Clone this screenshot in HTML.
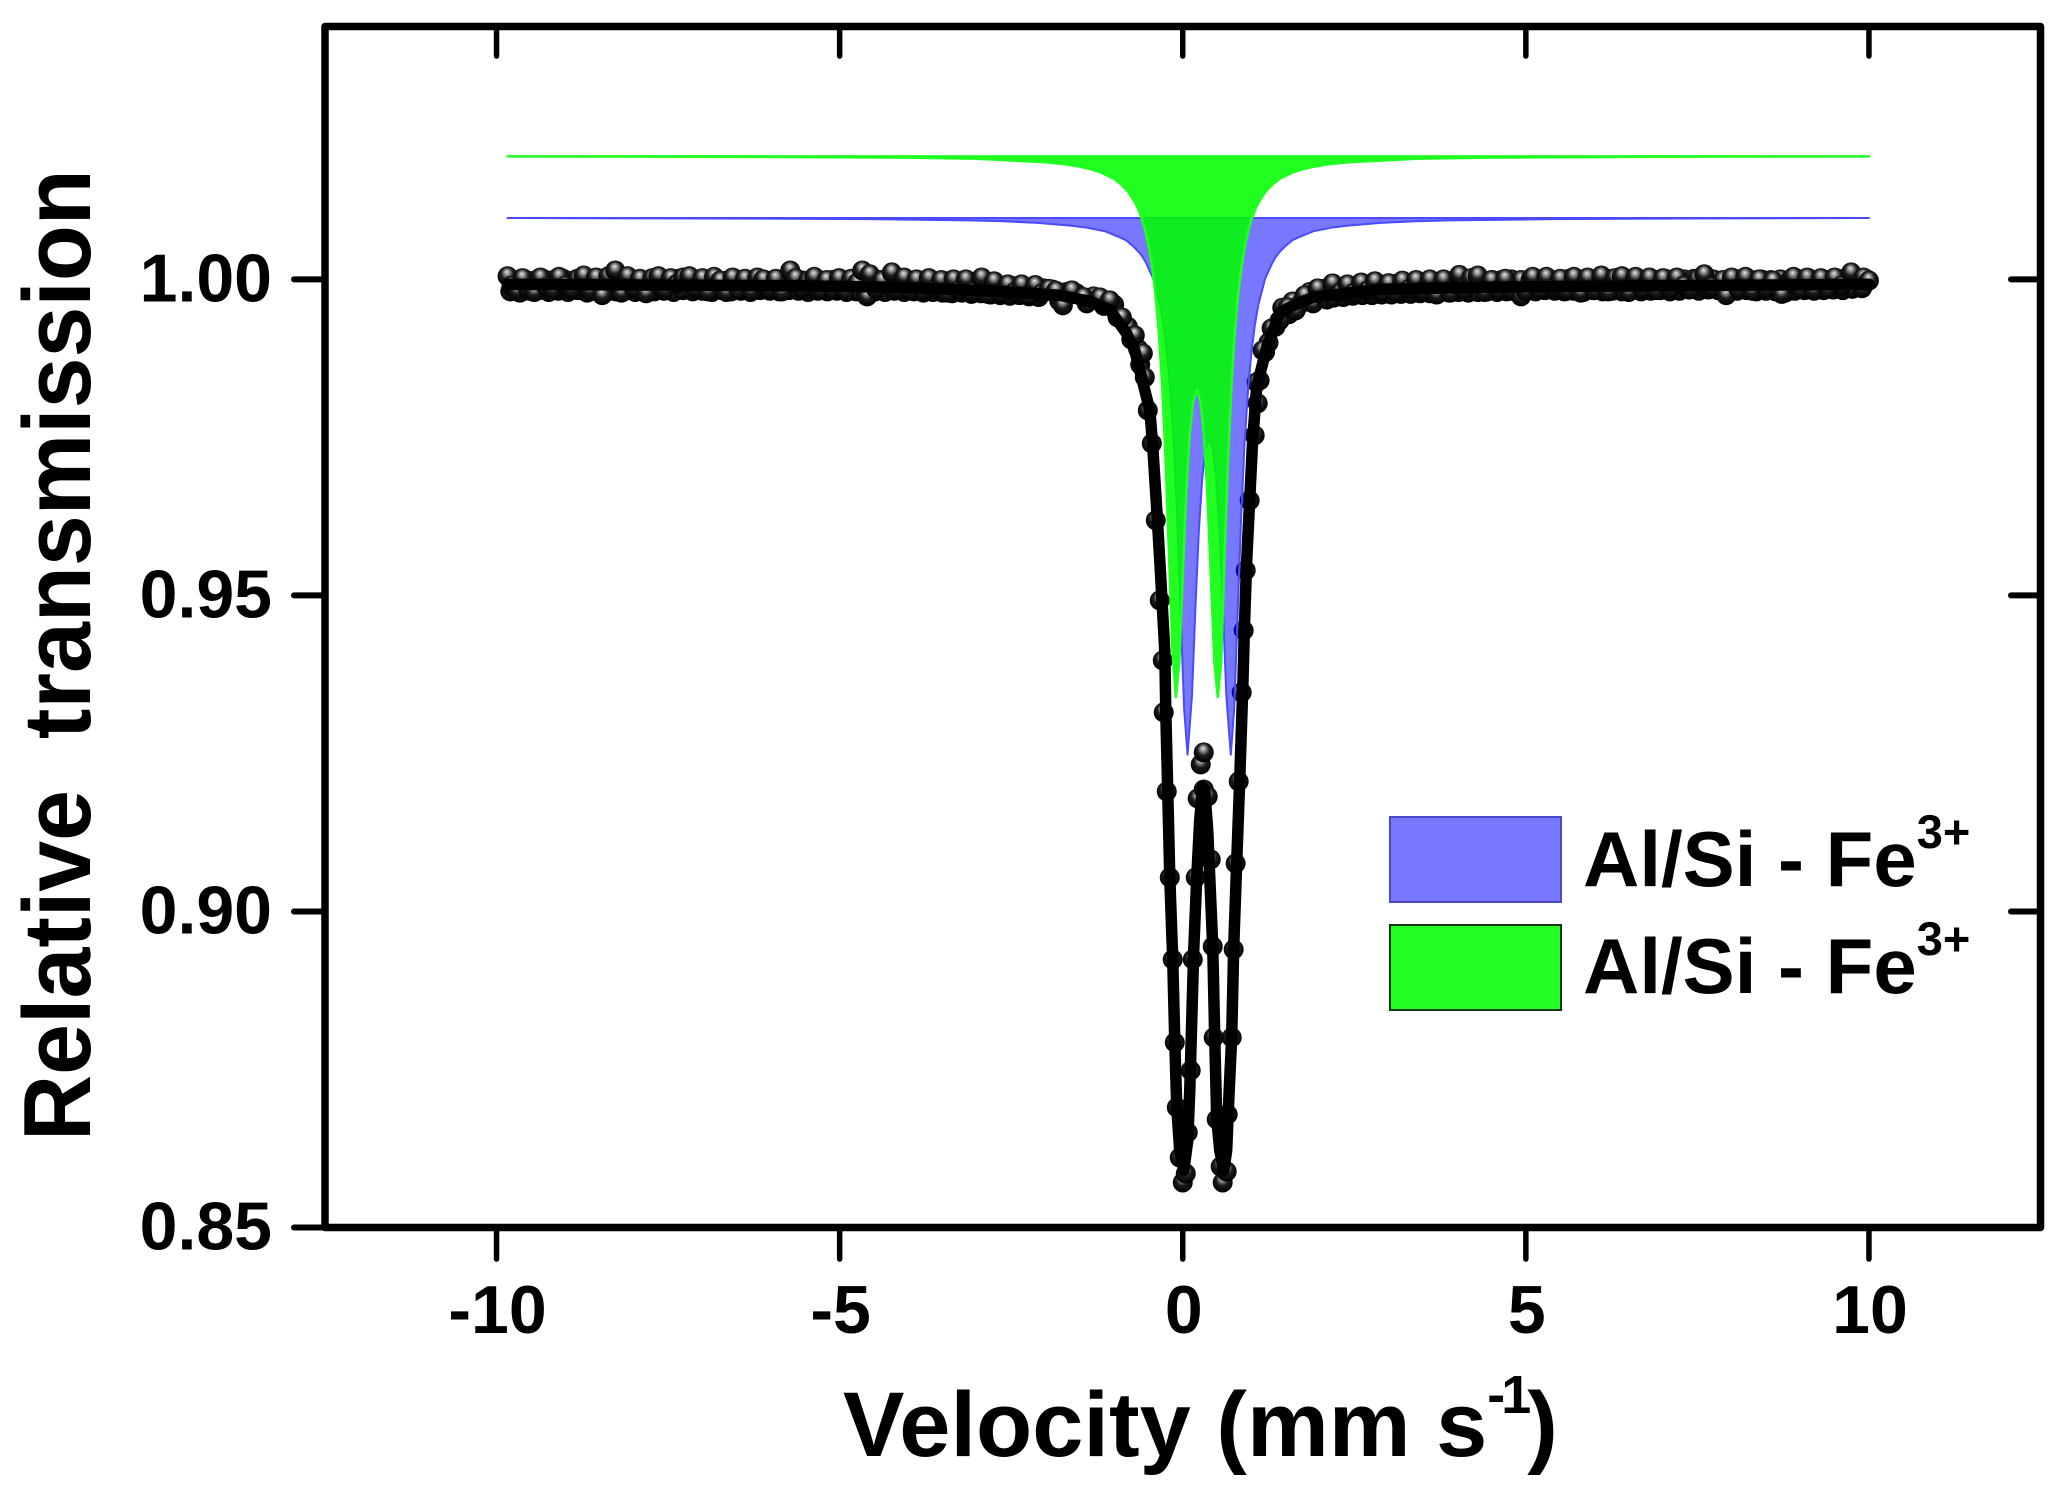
<!DOCTYPE html>
<html lang="en">
<head>
<meta charset="utf-8">
<title>Mössbauer spectrum</title>
<style>
html,body{margin:0;padding:0;background:#fff;}
svg{display:block;}
text{font-family:"Liberation Sans",Arial,sans-serif;font-weight:bold;fill:#000;white-space:pre;}
</style>
</head>
<body>
<svg id="chart" xmlns="http://www.w3.org/2000/svg" width="2068" height="1499" viewBox="0 0 2068 1499">
  <defs>
    <radialGradient id="ball" cx="0.5" cy="0.42" r="0.55" fx="0.46" fy="0.28">
      <stop offset="0" stop-color="#e6e6e6"/>
      <stop offset="0.22" stop-color="#9a9a9a"/>
      <stop offset="0.55" stop-color="#1c1c1c"/>
      <stop offset="1" stop-color="#000"/>
    </radialGradient>
  </defs>
  <rect width="2068" height="1499" fill="#fff"/>
  <g id="dense-layer"></g>
  <g id="scatter-layer"></g>
  <g id="fit-layer"></g>
  <g id="blue-layer"></g>
  <g id="green-layer"></g>
  <g id="axes-layer"></g>
  <text transform="translate(90,1141) rotate(-90) scale(0.995,1.04)" font-size="92">Relative  transmission</text>
  <text x="843" y="1456" font-size="92">Velocity (mm s<tspan dy="-43" font-size="54" letter-spacing="-4">-1</tspan><tspan dy="43">)</tspan></text>
  <g>
    <rect x="1390" y="817" width="171" height="85" fill="#7878ff" stroke="#4a4ac8" stroke-width="2"/>
    <text x="1583" y="886" font-size="78">Al/Si - Fe<tspan dy="-38" font-size="47">3+</tspan></text>
    <rect x="1390" y="925" width="171" height="85" fill="#22ff22" stroke="#0c3a0c" stroke-width="2"/>
    <text x="1583" y="993" font-size="78">Al/Si - Fe<tspan dy="-38" font-size="47">3+</tspan></text>
  </g>
</svg>
<script>
var xTickValues = [-10, -5, 0, 5, 10];
var xTickLabels = ["-10", "-5", "0", "5", "10"];
var yTickValues = [1.00, 0.95, 0.90, 0.85];
var yTickLabels = ["1.00", "0.95", "0.90", "0.85"];

var denseVelocity = [
-9.80,-9.73,-9.66,-9.59,-9.52,-9.45,-9.38,-9.31,-9.24,-9.17,-9.10,-9.03,-8.96,-8.89,-8.82,-8.75,-8.68,-8.61,-8.54,-8.47,
-8.40,-8.33,-8.26,-8.19,-8.12,-8.05,-7.98,-7.91,-7.84,-7.77,-7.70,-7.63,-7.56,-7.49,-7.42,-7.35,-7.28,-7.21,-7.14,-7.07,
-7.00,-6.93,-6.86,-6.79,-6.72,-6.65,-6.58,-6.51,-6.44,-6.37,-6.30,-6.23,-6.16,-6.09,-6.02,-5.95,-5.88,-5.81,-5.74,-5.67,
-5.60,-5.53,-5.46,-5.39,-5.32,-5.25,-5.18,-5.11,-5.04,-4.97,-4.90,-4.83,-4.76,-4.69,-4.62,-4.55,-4.48,-4.41,-4.34,-4.27,
-4.20,-4.13,-4.06,-3.99,-3.92,-3.85,-3.78,-3.71,-3.64,-3.57,-3.50,-3.43,-3.36,-3.29,-3.22,-3.15,-3.08,-3.01,-2.94,-2.87,
-2.80,-2.73,-2.66,-2.59,-2.52,-2.45,-2.38,-2.31,-2.24,-2.17,-2.10,-2.03,
-1.90,-1.80,-1.70,-1.55,-1.40,-1.30,-1.15,-1.00,-0.95,-0.80,-0.75,-0.65,-0.62,
1.12,1.20,1.25,1.35,1.45,1.55,1.60,1.70,1.85,1.90,2.05,2.10,
2.20,2.27,2.34,2.41,2.48,2.55,2.62,2.69,2.76,2.83,2.90,2.97,3.04,3.11,3.18,3.25,3.32,3.39,3.46,3.53,
3.60,3.67,3.74,3.81,3.88,3.95,4.02,4.09,4.16,4.23,4.30,4.37,4.44,4.51,4.58,4.65,4.72,4.79,4.86,4.93,
5.00,5.07,5.14,5.21,5.28,5.35,5.42,5.49,5.56,5.63,5.70,5.77,5.84,5.91,5.98,6.05,6.12,6.19,6.26,6.33,
6.40,6.47,6.54,6.61,6.68,6.75,6.82,6.89,6.96,7.03,7.10,7.17,7.24,7.31,7.38,7.45,7.52,7.59,7.66,7.73,
7.80,7.87,7.94,8.01,8.08,8.15,8.22,8.29,8.36,8.43,8.50,8.57,8.64,8.71,8.78,8.85,8.92,8.99,9.06,9.13,
9.20,9.27,9.34,9.41,9.48,9.55,9.62,9.69,9.76,9.83,9.90,9.97
];
var denseTransmission = [
0.9981,0.9999,0.9979,1.0000,0.9982,0.9998,0.9983,1.0000,0.9980,0.9999,0.9982,1.0001,0.9980,0.9998,0.9983,0.9999,0.9979,1.0000,0.9981,1.0001,
0.9980,0.9999,0.9981,1.0002,0.9982,0.9999,0.9980,1.0000,0.9983,0.9998,0.9981,1.0000,0.9982,0.9999,0.9980,1.0001,0.9983,0.9999,0.9981,0.9998,
0.9982,1.0000,0.9980,0.9999,0.9983,0.9998,0.9981,1.0000,0.9982,0.9999,0.9980,1.0000,0.9983,0.9998,0.9982,0.9999,0.9981,1.0000,0.9983,0.9999,
0.9982,0.9998,0.9980,1.0000,0.9982,0.9998,0.9981,0.9999,0.9982,0.9998,0.9980,0.9999,0.9981,1.0000,0.9979,1.0000,0.9981,0.9999,0.9980,1.0000,
0.9982,0.9998,0.9980,0.9997,0.9981,0.9998,0.9979,0.9997,0.9980,0.9996,0.9979,0.9997,0.9978,0.9996,0.9979,0.9995,0.9977,0.9996,0.9978,0.9994,
0.9976,0.9992,0.9975,0.9990,0.9974,0.9989,0.9975,0.9988,0.9973,0.9987,0.9972,0.9986,
0.9984,0.9966,0.9980,0.9978,0.9962,0.9973,0.9958,0.9960,0.9940,0.9925,0.9905,0.9890,0.9865,
0.9840,0.9885,0.9900,0.9925,0.9955,0.9945,0.9965,0.9960,0.9980,0.9962,0.9985,0.9968,
0.9971,0.9986,0.9972,0.9988,0.9974,0.9989,0.9975,0.9990,0.9975,0.9991,0.9976,0.9992,0.9976,0.9993,0.9977,0.9994,0.9977,0.9995,0.9978,0.9996,
0.9978,0.9996,0.9979,0.9997,0.9979,0.9998,0.9980,0.9998,0.9979,0.9999,0.9980,0.9998,0.9981,0.9999,0.9980,0.9999,0.9981,1.0000,0.9980,0.9999,
0.9982,1.0000,0.9981,0.9999,0.9983,1.0000,0.9982,0.9999,0.9981,1.0001,0.9982,1.0000,0.9980,0.9999,0.9983,1.0000,0.9981,1.0001,0.9982,0.9999,
0.9981,1.0000,0.9983,0.9999,0.9981,1.0000,0.9982,0.9999,0.9983,1.0001,0.9981,0.9999,0.9982,1.0000,0.9984,1.0001,0.9982,1.0002,0.9984,1.0000,
0.9983,0.9999,0.9981,1.0000,0.9982,1.0001,0.9983,0.9999,0.9981,1.0000,0.9982,0.9999,0.9981,1.0000,0.9979,0.9999,0.9982,1.0000,0.9983,1.0001,
0.9982,1.0000,0.9983,0.9999,0.9984,1.0001,0.9983,1.0000,0.9985,1.0002,0.9986,1.0000
];

var scatterVelocity = [
-9.84,-9.78,-9.70,-9.62,-9.54,-9.45,-9.36,-9.27,-9.18,-9.09,-9.00,-8.91,-8.82,-8.73,-8.64,-8.55,-8.46,-8.37,-8.27,-8.18,
-8.09,-8.00,-7.91,-7.82,-7.73,-7.64,-7.55,-7.46,-7.37,-7.28,-7.19,-7.10,-7.00,-6.92,-6.83,-6.74,-6.65,-6.56,-6.47,-6.38,
-6.29,-6.20,-6.11,-6.02,-5.93,-5.84,-5.72,-5.64,-5.55,-5.46,-5.37,-5.28,-5.19,-5.10,-5.01,-4.92,-4.83,-4.74,-4.67,-4.60,
-4.56,-4.47,-4.38,-4.24,-4.15,-4.06,-3.97,-3.88,-3.79,-3.70,-3.61,-3.52,-3.43,-3.34,-3.25,-3.16,-3.07,-2.93,-2.84,-2.75,
-2.66,-2.55,-2.45,-2.35,-2.25,-2.15,-2.05,-1.95,-1.85,-1.747,-1.616,-1.45,-1.208,-1.063,-0.888,-0.699,-0.582,-0.553,-0.509,-0.451,
-0.393,-0.335,-0.291,-0.277,-0.233,-0.189,-0.146,-0.116,-0.087,-0.044,0,0.044,0.073,0.116,0.146,0.189,0.218,0.262,0.306,0.306,
0.364,0.408,0.437,0.451,0.495,0.553,0.582,0.640,0.655,0.713,0.742,0.771,0.815,0.859,0.888,0.917,0.975,1.048,1.077,1.092,
1.164,1.295,1.412,1.528,1.645,1.776,1.965,2.183,2.30,2.40,2.50,2.60,2.70,2.80,2.90,3.00,3.10,3.20,3.30,3.40,
3.50,3.60,3.70,3.80,3.90,4.03,4.10,4.20,4.30,4.40,4.50,4.60,4.70,4.80,4.93,5.00,5.10,5.20,5.30,5.40,
5.50,5.60,5.70,5.80,5.90,6.00,6.10,6.20,6.30,6.40,6.50,6.60,6.70,6.80,6.90,7.00,7.10,7.20,7.30,7.40,
7.50,7.60,7.70,7.92,8.00,8.10,8.20,8.30,8.40,8.50,8.60,8.73,8.90,9.00,9.10,9.20,9.30,9.40,9.50,9.60,
9.74,9.92,10.0
];
var scatterTransmission = [
1.0005,0.9990,0.9982,1.0002,0.9985,0.9980,1.0003,0.9988,0.9984,1.0004,0.9990,0.9985,1.0001,1.0006,0.9983,1.0003,0.9975,1.0005,1.0014,0.9979,
1.0005,0.9986,1.0001,0.9978,1.0002,1.0005,0.9984,1.0002,0.9993,1.0003,1.0005,0.9986,1.0002,0.9981,1.0004,0.9998,0.9980,1.0003,0.9984,1.0001,
0.9982,1.0003,1.0000,0.9985,1.0001,0.9981,1.0014,1.0002,0.9986,0.9998,1.0004,0.9984,0.9999,0.9984,1.0002,0.9982,1.0001,0.9995,1.0014,0.9973,
1.0008,0.9985,0.9998,1.0011,0.9984,1.0003,0.9983,1.0000,0.9982,1.0002,0.9985,0.9999,0.9979,1.0000,0.9983,1.0000,0.9980,1.0003,0.9977,0.9997,
0.9979,0.9992,0.9980,0.9992,0.9975,0.9991,0.9978,0.9985,0.9982,0.99589,0.99826,0.9972,0.99715,0.99668,0.99399,0.99114,0.98829,0.98449,0.97927,0.97405,
0.96187,0.94921,0.93971,0.93149,0.91899,0.90538,0.8924,0.87927,0.86899,0.86107,0.85712,0.85854,0.86503,0.87484,0.8924,0.90538,0.91788,0.92326,0.92516,0.9193,
0.9182,0.90823,0.89446,0.88006,0.86709,0.85965,0.85712,0.85886,0.86788,0.88006,0.89399,0.9076,0.92057,0.93465,0.94446,0.95396,0.96503,0.97532,0.9837,0.98038,
0.98877,0.99225,0.99351,0.99557,0.99509,0.99747,0.99858,0.99937,0.9980,0.9992,0.9979,0.9995,0.9983,0.9997,0.9981,0.9994,0.9980,0.9998,0.9985,0.9999,
0.9982,1.0000,0.9976,1.0000,0.9979,1.0007,0.9984,1.0002,1.0006,0.9980,0.9999,0.9984,1.0001,0.9982,0.9973,0.9981,1.0004,0.9984,1.0004,0.9987,
1.0001,0.9982,1.0004,0.9979,1.0003,0.9983,1.0006,0.9981,1.0002,1.0005,0.9980,1.0004,0.9985,1.0003,0.9983,1.0002,0.9985,1.0003,0.9990,0.9985,
1.0001,1.0008,0.9988,0.9975,1.0003,0.9985,1.0004,0.9982,1.0000,0.9986,0.9998,0.9977,1.0004,0.9985,1.0003,0.9983,1.0002,0.9985,1.0003,0.9990,
1.0011,1.0003,0.9998
];

var fitVelocity = [
-9.84,-5.57,-4.12,-2.66,-1.79,-1.35,-1.06,-0.82,-0.70,-0.60,-0.48,-0.44,-0.378,-0.335,-0.262,-0.247,-0.218,-0.189,-0.146,-0.116,
-0.087,-0.044,0.015,0.073,0.102,0.131,0.160,0.204,0.247,0.291,0.320,0.364,0.437,0.466,0.495,0.539,0.597,0.640,0.670,0.713,
0.742,0.786,0.830,0.873,0.902,0.932,0.975,1.019,1.077,1.223,1.412,1.557,1.892,2.868,4.323,5.779,10
];
var fitTransmission = [
0.99921,0.99897,0.99873,0.9981,0.99747,0.99652,0.99509,0.99146,0.98877,0.98449,0.97927,0.97405,0.96345,0.95554,0.9413,0.93149,0.91867,0.90538,0.8924,0.87943,
0.86899,0.86218,0.85902,0.86377,0.87168,0.88275,0.89383,0.90538,0.9144,0.91978,0.91915,0.91282,0.89446,0.88006,0.86725,0.86218,0.85902,0.86218,0.8701,0.88006,
0.89415,0.90775,0.92073,0.93481,0.94604,0.95554,0.96503,0.97453,0.98291,0.98924,0.99462,0.99557,0.99715,0.99842,0.99873,0.99889,0.99921
];

var greenVelocity = [
-9.84,-6,-4,-3,-2,-1.7,-1.5,-1.35,-1.2,-1,-0.9,-0.8,-0.7,-0.65,-0.6,-0.55,-0.5,-0.45,-0.4,-0.35,-0.3,-0.25,-0.2,-0.15,
-0.1,-0.05,0,0.05,0.1,0.15,0.205,0.26,0.31,0.36,0.41,0.46,0.51,0.56,0.61,0.66,0.71,0.76,0.81,0.86,
0.91,0.96,1.01,1.06,1.11,1.21,1.31,1.41,1.61,1.76,1.91,2.11,2.41,3.41,4.41,6.41,10
];
var greenTransmission = [
1.01946,1.01938,1.01925,1.01907,1.01853,1.01818,1.01783,1.01746,1.01694,1.01589,1.01503,1.0139,1.01224,1.0112,1.00973,1.0079,1.0055,1.0023,0.9979,0.9919,0.9833,0.9715,0.9564,0.9413,
0.9339,0.9395,0.9529,0.9659,0.9753,0.9806,0.9825,0.9806,0.9753,0.9659,0.9529,0.9395,0.9339,0.9395,0.9564,0.9715,0.9833,0.9919,0.9979,1.0023,
1.0055,1.0079,1.00973,1.0112,1.01224,1.0139,1.01503,1.01589,1.01694,1.01746,1.01783,1.01818,1.01853,1.01907,1.01925,1.01938,1.01946
];

var blueVelocity = [
-9.84,-6.115,-4.615,-3.115,-2.615,-2.115,-1.615,-1.415,-1.13,-0.915,-0.83,-0.715,-0.63,-0.58,-0.53,-0.43,-0.33,-0.28,-0.23,-0.18,-0.13,-0.08,-0.03,0.02,0.07,
0.135,0.185,0.235,0.285,0.335,0.385,0.435,0.485,0.535,0.585,0.635,0.70,0.75,0.80,0.85,0.90,0.95,1.0,1.05,1.10,
1.20,1.30,1.35,1.40,1.485,1.60,1.685,1.90,2.185,2.385,2.885,3.385,3.885,5.385,6.885,10
];
var blueTransmission = [
1.0097,1.0096,1.00953,1.00932,1.00919,1.00894,1.00848,1.00821,1.0076,1.00663,1.0062,1.00515,1.0042,1.00344,1.0025,1.0001,0.9959,0.9927,0.9884,0.9823,0.9739,0.9621,0.9471,0.9321,0.9248,
0.9342,0.9482,0.9603,0.9687,0.9733,0.9748,0.9733,0.9687,0.9603,0.9482,0.9342,0.9248,0.9321,0.9471,0.9621,0.9739,0.9823,0.9884,0.9927,0.9959,
1.0001,1.0025,1.00344,1.0042,1.00515,1.0062,1.00663,1.0076,1.00821,1.00848,1.00894,1.00919,1.00932,1.00953,1.0096,1.0097
];

var NS = "http://www.w3.org/2000/svg";
var plotLeft = 325, plotRight = 2040.5, plotTop = 26.5, plotBottom = 1227.5;
var xMin = -12.5, xMax = 12.5, yMin = 0.85, yMax = 1.04;

function xScale(v) { return plotLeft + (v - xMin) / (xMax - xMin) * (plotRight - plotLeft); }
function yScale(t) { return plotBottom - (t - yMin) / (yMax - yMin) * (plotBottom - plotTop); }
function make(tag, attrs, parent) {
  var el = document.createElementNS(NS, tag);
  for (var k in attrs) { el.setAttribute(k, attrs[k]); }
  parent.appendChild(el);
  return el;
}
function pathFrom(vs, ts) {
  var d = "";
  for (var i = 0; i < vs.length; i++) {
    d += (i ? "L" : "M") + xScale(vs[i]).toFixed(2) + "," + yScale(ts[i]).toFixed(2);
  }
  return d;
}

var denseLayer = document.getElementById("dense-layer");
var scatterLayer = document.getElementById("scatter-layer");
var fitLayer = document.getElementById("fit-layer");
var blueLayer = document.getElementById("blue-layer");
var greenLayer = document.getElementById("green-layer");
var axesLayer = document.getElementById("axes-layer");

for (var d = 0; d < denseVelocity.length; d++) {
  var denseDot = make("circle", {cx: xScale(denseVelocity[d]).toFixed(2), cy: yScale(denseTransmission[d]).toFixed(2), r: 10, fill: "url(#ball)"}, denseLayer);
  
  
}

for (var i = 0; i < scatterVelocity.length; i++) {
  var dot = make("circle", {cx: xScale(scatterVelocity[i]).toFixed(2), cy: yScale(scatterTransmission[i]).toFixed(2), r: 10, fill: "url(#ball)"}, scatterLayer);
  
  
}

var fitLine = make("path", {d: pathFrom(fitVelocity, fitTransmission), fill: "none", stroke: "#000", "stroke-width": 11.5, "stroke-linejoin": "round", "stroke-linecap": "round"}, fitLayer);



var blueArea = make("path", {d: pathFrom(blueVelocity, blueTransmission) + "Z", fill: "#0000ff", "fill-opacity": 0.53, stroke: "#4a4aff", "stroke-width": 2, "stroke-linejoin": "round"}, blueLayer);



var greenArea = make("path", {d: pathFrom(greenVelocity, greenTransmission) + "Z", fill: "#00ff00", "fill-opacity": 0.87, stroke: "#22ff22", "stroke-width": 2.5, "stroke-linejoin": "round"}, greenLayer);



var frame = make("rect", {x: plotLeft, y: plotTop, width: plotRight - plotLeft, height: plotBottom - plotTop, fill: "none", stroke: "#000", "stroke-width": 7.5, "stroke-linejoin": "round"}, axesLayer);



for (var j = 0; j < xTickValues.length; j++) {
  var tx = xScale(xTickValues[j]);
  var bottomTick = make("line", {x1: tx, x2: tx, y1: plotBottom, y2: 1259, stroke: "#000", "stroke-width": 5.5, "stroke-linecap": "round"}, axesLayer);
  
  
  var topTick = make("line", {x1: tx, x2: tx, y1: plotTop, y2: 56, stroke: "#000", "stroke-width": 5.5, "stroke-linecap": "round"}, axesLayer);
  
  
  var xLabel = make("text", {x: tx + 1, y: 1333, "font-size": 68, "text-anchor": "middle"}, axesLayer);
  xLabel.textContent = xTickLabels[j];
  
  
}

for (var m = 0; m < yTickValues.length; m++) {
  var ty = yScale(yTickValues[m]);
  var leftTick = make("line", {x1: 294, x2: plotLeft, y1: ty, y2: ty, stroke: "#000", "stroke-width": 6, "stroke-linecap": "round"}, axesLayer);
  
  
  var rightTick = make("line", {x1: 2011, x2: plotRight, y1: ty, y2: ty, stroke: "#000", "stroke-width": 6, "stroke-linecap": "round"}, axesLayer);
  
  
  var yLabel = make("text", {x: 272, y: ty + 22, "font-size": 68, "text-anchor": "end"}, axesLayer);
  yLabel.textContent = yTickLabels[m];
  
  
}
</script>
</body>
</html>
